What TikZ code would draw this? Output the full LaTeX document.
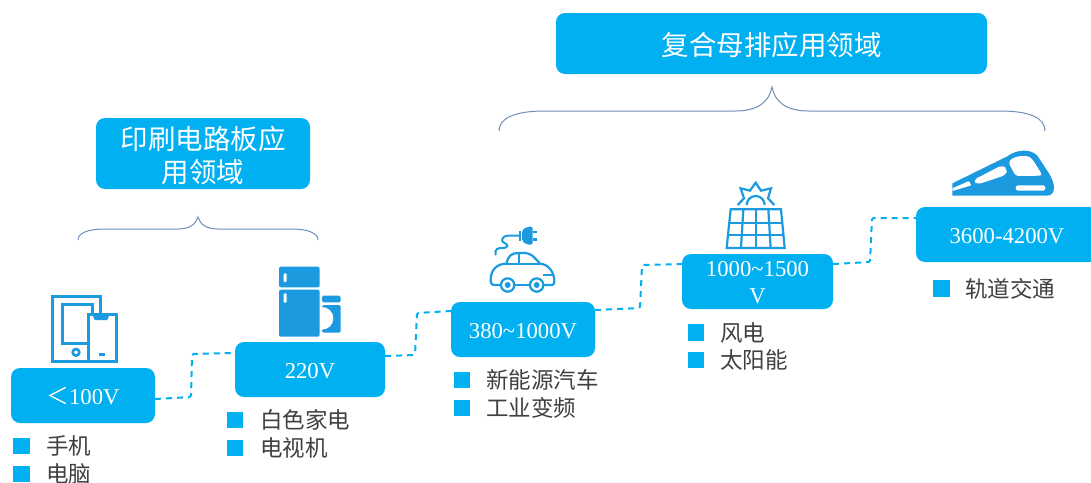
\documentclass[tikz,border=0pt]{standalone}
\usepackage{fontspec}
\setmainfont{Liberation Serif}
\newfontfamily\cjk{Noto Sans CJK SC}
\definecolor{boxblue}{HTML}{00B0F0}
\definecolor{iconblue}{HTML}{1C9ADF}
\definecolor{bracec}{HTML}{6F8FB8}
\definecolor{txt}{HTML}{404040}
\newcommand{\lowered}[2]{\raisebox{-#1}[0pt][0pt]{\begin{tabular}{@{}c@{}}#2\end{tabular}}}
\tikzset{
 x=1pt,y=-1pt,
 vbox/.style={fill=boxblue,rounded corners=9pt,draw=none,inner sep=0pt,text=white,align=center,font=\fontsize{22.7}{27}\selectfont},
 titlebox/.style={fill=boxblue,rounded corners=9pt,draw=none,inner sep=0pt,text=white,align=center,font=\cjk\fontsize{27.5}{33}\selectfont},
 bul/.style={fill=boxblue,draw=none,minimum size=16.5pt,inner sep=0pt},
 item/.style={anchor=west,inner sep=0pt,text=txt,font=\cjk\fontsize{22.5}{26}\selectfont},
 conn/.style={draw=boxblue,line width=2pt,dash pattern=on 6pt off 5pt,rounded corners=1.5pt},
 bracel/.style={draw=bracec,line width=1pt},
 ic/.style={draw=iconblue,line width=2.2pt},
 icf/.style={fill=iconblue,draw=none},
 icw/.style={fill=white,draw=none},
}
\begin{document}
\begin{tikzpicture}
\useasboundingbox (0,0) rectangle (1091,482);
\clip (0,0) rectangle (1091,482);
\fill[white] (0,0) rectangle (1091,482);

% value boxes
\node[vbox,minimum width=144pt,minimum height=55pt] (a) at (83,395.5) {\lowered{8.5pt}{{\cjk ＜}100V}};
\node[vbox,minimum width=150pt,minimum height=55pt] (b) at (310,369.5) {\lowered{8.5pt}{220V}};
\node[vbox,minimum width=144pt,minimum height=55pt] (c) at (523,329.5) {\lowered{8.5pt}{380\textasciitilde1000V}};
\node[vbox,minimum width=151pt,minimum height=55pt] (d) at (757.5,281.5) {\lowered{8.5pt}{1000\textasciitilde1500\\V}};
\node[vbox,minimum width=182pt,minimum height=55pt] (e) at (1007,234.5) {\lowered{8.5pt}{3600-4200V}};

% titles
\node[titlebox,minimum width=214pt,minimum height=71pt] (t1) at (203,153.5) {\lowered{11.7pt}{印刷电路板应\\用领域}};
\node[titlebox,minimum width=431pt,minimum height=61pt] (t2) at (771.5,43.5) {\lowered{12pt}{复合母排应用领域}};

% braces
\coordinate (b1l) at (78,240); \coordinate (b1m) at (198,217); \coordinate (b1r) at (318,240);
\coordinate (b2l) at (499,131); \coordinate (b2m) at (772,87); \coordinate (b2r) at (1045,131);
\draw[bracel] (b1l) .. controls (78,233) and (88,229) .. (105,229) -- (178,229)
  .. controls (190,229) and (196,224) .. (b1m) .. controls (200,224) and (206,229) .. (218,229)
  -- (291,229) .. controls (308,229) and (318,233) .. (b1r);
\draw[bracel] (b2l) .. controls (499,118) and (515,111) .. (545,111) -- (735,111)
  .. controls (758,111) and (769,102) .. (b2m) .. controls (775,102) and (786,111) .. (809,111)
  -- (1000,111) .. controls (1030,111) and (1045,118) .. (b2r);

% connectors
\coordinate (ab1) at (191,397); \coordinate (ab2) at (192,354);
\coordinate (bc1) at (415,355); \coordinate (bc2) at (417,313);
\coordinate (cd1) at (640,308); \coordinate (cd2) at (642,265);
\coordinate (de1) at (870,262); \coordinate (de2) at (872,218);
\draw[conn] ([yshift=-3.5pt]a.east) -- (ab1) -- (ab2) -- ([yshift=16.5pt]b.west);
\draw[conn] ([yshift=13.5pt]b.east) -- (bc1) -- (bc2) -- ([yshift=18.5pt]c.west);
\draw[conn] ([yshift=19.5pt]c.east) -- (cd1) -- (cd2) -- ([yshift=17.5pt]d.west);
\draw[conn] ([yshift=17.5pt]d.east) -- (de1) -- (de2) -- ([yshift=16.5pt]e.west);

% bullets
\node[bul] (s1) at (21.5,446) {};   \node[item] (l1) at (46,446) {手机};
\node[bul] (s2) at (21.5,474) {};   \node[item] (l2) at (46,474) {电脑};
\node[bul] (s3) at (235,420) {};    \node[item] (l3) at (260,420) {白色家电};
\node[bul] (s4) at (235,448) {};    \node[item] (l4) at (260,448) {电视机};
\node[bul] (s5) at (462,380) {};    \node[item] (l5) at (486,380) {新能源汽车};
\node[bul] (s6) at (462,408) {};    \node[item] (l6) at (486,408) {工业变频};
\node[bul] (s7) at (696,332.5) {};  \node[item] (l7) at (720,332.5) {风电};
\node[bul] (s8) at (696,360) {};    \node[item] (l8) at (720,360) {太阳能};
\node[bul] (s9) at (941.5,288.5) {};\node[item] (l9) at (965,288.5) {轨道交通};

% icon: tablet and phone
\begin{scope}[shift={(0,250)},scale=1/3]
 \draw[ic,line width=3pt] (265,334) -- (158,334) -- (158,140) -- (300,140) -- (300,192);
 \draw[ic,line width=3pt] (265,280) -- (186,280) -- (186,163) -- (278,163) -- (278,192);
 \draw[ic,line width=3pt] (265,194) rectangle (348,334);
 \fill[iconblue] (278,195) -- (328,195) -- (322,210) -- (284,210) -- cycle;
 \draw[ic,line width=2.6pt] (228,307) circle (10);
 \fill[iconblue] (297,309) rectangle (316,318);
\end{scope}

% icon: fridge and washer
\begin{scope}[shift={(0,250)},scale=1/3]
 \fill[icf,rounded corners=2pt] (837,112) -- (837,50) -- (959,50) -- (959,112) -- cycle;
 \fill[icf,rounded corners=2pt] (837,119) -- (837,260) -- (959,260) -- (959,119) -- cycle;
 \fill[white,rounded corners=1pt] (851,70) rectangle (860,96);
 \fill[white,rounded corners=1pt] (851,130) rectangle (860,158);
 \fill[icf,rounded corners=1.5pt] (966,137) rectangle (1022,157);
 \fill[icf,rounded corners=1.5pt] (966,165) rectangle (1022,248);
 \begin{scope}
  \clip (966,170) rectangle (1010,240);
  \fill[white] (966,205) circle (34);
 \end{scope}
\end{scope}

% icon: car
\begin{scope}[shift={(440,170)},scale=1/3]
 \draw[ic,line join=round] (182,345) -- (165,345) .. controls (155,345) and (152,340) .. (152,330)
   .. controls (152,300) and (170,281) .. (200,281)
   .. controls (203,258) and (215,249) .. (235,249) -- (255,249)
   .. controls (275,249) and (285,265) .. (300,281)
   .. controls (325,283) and (343,305) .. (343,335) .. controls (343,342) and (340,345) .. (335,345) -- (312,345);
 \draw[ic] (200,281) -- (300,281);
 \draw[ic] (238,249) -- (238,281);
 \draw[ic] (226,345) -- (266,345);
 \draw[ic] (310,314) -- (340,314);
 \draw[ic] (203,345) circle (20);
 \draw[ic] (290,345) circle (20);
 \fill[iconblue] (203,345) circle (9);
 \fill[iconblue] (290,345) circle (9);
 \draw[ic,line width=2pt,line cap=round] (167,254) .. controls (162,238) and (175,232) .. (190,234)
   .. controls (205,234) and (205,222) .. (195,220) .. controls (180,215) and (185,197) .. (205,197) -- (240,197);
 \draw[ic] (240,183) -- (240,212);
 \fill[iconblue,rounded corners=2pt] (246,180) -- (262,170) -- (278,170) -- (278,224) -- (262,224) -- (246,214) -- cycle;
 \fill[iconblue] (278,182) rectangle (290,189);
 \fill[iconblue] (278,205) rectangle (290,212);
\end{scope}

% icon: solar panel
\begin{scope}[shift={(440,170)},scale=1/3]
 \draw[ic] (872,118) -- (1023,118) -- (1034,234) -- (860,234) -- cycle;
 \draw[ic] (868,158) -- (1027,158);
 \draw[ic] (864,196) -- (1031,196);
 \draw[ic] (910,118) -- (903,234);
 \draw[ic] (947,118) -- (947,234);
 \draw[ic] (985,118) -- (992,234);
 \draw[ic,line join=miter] (893,105) -- (912,85) -- (902,55) -- (930,62) -- (947,38) -- (963,62) -- (993,55) -- (984,85) -- (1003,105);
 \draw[ic] (920,105) arc[start angle=180,end angle=360,radius=27];
\end{scope}

% icon: train
\begin{scope}[shift={(945,145)},scale=1/3]
 \fill[icf] (22,152) -- (22,115) -- (185,35) .. controls (215,13) and (255,10) .. (277,32)
   -- (310,82) .. controls (322,102) and (328,118) .. (327,130) .. controls (326,145) and (318,152) .. (305,152) -- cycle;
 \fill[white,rounded corners=3pt] (190,52) .. controls (208,32) and (245,30) .. (262,42) -- (293,92) -- (212,93) -- cycle;
 \fill[white,rounded corners=4pt] (85,105) -- (172,60) -- (187,72) -- (183,90) -- (95,119) -- cycle;
 \fill[white,rounded corners=1pt] (22,130) -- (72,108) -- (79,121) -- (22,138) -- cycle;
 \fill[white,rounded corners=2.5pt] (212,121) rectangle (301,137);
\end{scope}
\end{tikzpicture}
\end{document}
